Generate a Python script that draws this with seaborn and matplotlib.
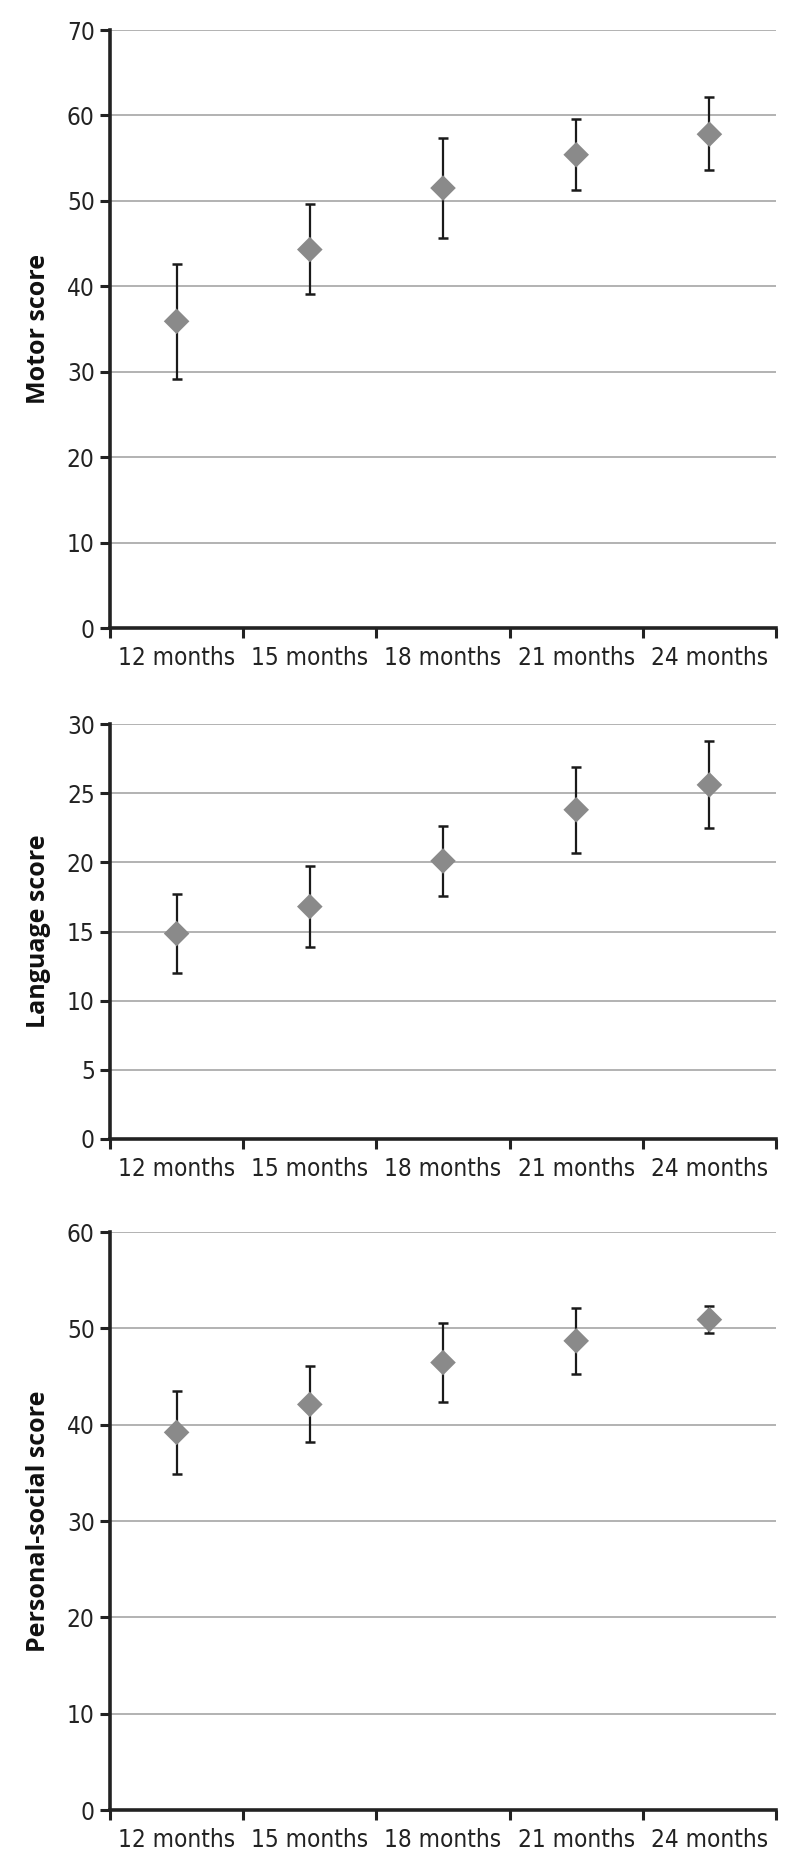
import matplotlib
matplotlib.use("Agg")
import matplotlib.pyplot as plt
import seaborn as sns
import numpy as np
import pandas as pd
from matplotlib.ticker import FixedLocator, NullFormatter
from matplotlib import font_manager

categories = ["12 months", "15 months", "18 months", "21 months", "24 months"]

motor_mean = [35.9, 44.3, 51.5, 55.4, 57.8]
motor_low = [29.2, 39.1, 45.7, 51.25, 53.6]
motor_high = [42.65, 49.6, 57.35, 59.6, 62.1]

language_mean = [14.85, 16.8, 20.1, 23.8, 25.6]
language_low = [12.0, 13.9, 17.6, 20.7, 22.5]
language_high = [17.7, 19.7, 22.6, 26.9, 28.75]

social_mean = [39.2, 42.1, 46.45, 48.7, 50.9]
social_low = [34.85, 38.15, 42.35, 45.3, 49.55]
social_high = [43.45, 46.1, 50.6, 52.15, 52.35]

panels = [
    ("Motor score", motor_mean, motor_low, motor_high, 70, 10),
    ("Language score", language_mean, language_low, language_high, 30, 5),
    ("Personal-social score", social_mean, social_low, social_high, 60, 10),
]

sns.set_theme(style="white")
plt.rcParams['font.family'] = ['Open Sans', 'DejaVu Sans']

# condensed upright tick font if available
cond = [f for f in font_manager.fontManager.ttflist
        if f.name in ("Liberation Sans Narrow", "DejaVu Sans")
        and (f.stretch in ("condensed", "semi-condensed") or f.name == "Liberation Sans Narrow")
        and f.style == "normal"
        and f.weight in (400, "normal", "regular", "book")]
tick_fp = (font_manager.FontProperties(fname=cond[0].fname) if cond
           else font_manager.FontProperties(family="Open Sans"))

W, H = 800, 1869
fig = plt.figure(figsize=(W / 100, H / 100), dpi=100)

boxes = [(30, 628), (724, 1139), (1232, 1810)]
left_px, right_px = 110, 776

for (ylabel, mean, low, high, ymax, step), (top, bot) in zip(panels, boxes):
    ax = fig.add_axes([left_px / W, 1 - bot / H, (right_px - left_px) / W, (bot - top) / H])
    df = pd.DataFrame({"x": np.arange(len(categories)), "mean": mean,
                       "low": low, "high": high})
    yerr = np.vstack([df["mean"] - df["low"], df["high"] - df["mean"]])
    ax.errorbar(df["x"], df["mean"], yerr=yerr, fmt="none", ecolor="#1a1a1a",
                elinewidth=1.6, capsize=3.8, capthick=1.8, zorder=3)
    sns.scatterplot(data=df, x="x", y="mean", marker="D", s=170, color="#8a8a8a",
                    edgecolor="none", ax=ax, zorder=4, legend=False)
    ax.set_xlim(-0.5, len(categories) - 0.5)
    ax.set_ylim(0, ymax)
    ax.set_yticks(np.arange(0, ymax + 0.1, step))
    ax.yaxis.grid(True, color="#acacac", linewidth=1.3, zorder=0)
    ax.set_axisbelow(True)
    ax.xaxis.set_major_locator(FixedLocator(np.arange(-0.5, len(categories), 1.0)))
    ax.xaxis.set_major_formatter(NullFormatter())
    ax.xaxis.set_minor_locator(FixedLocator(np.arange(len(categories))))
    ax.set_xticklabels(categories, minor=True)
    ax.tick_params(axis="x", which="minor", length=0, pad=13, labelcolor="#222222")
    ax.tick_params(axis="x", which="major", length=7, width=2.2, color="#222222", direction="out", bottom=True)
    ax.tick_params(axis="y", length=7, width=2.2, color="#222222", direction="out", left=True,
                   pad=4, labelcolor="#222222")
    for lab in ax.get_xticklabels(minor=True) + ax.get_yticklabels():
        lab.set_fontproperties(tick_fp)
        lab.set_fontsize(17.5)
    for s in ["top", "right"]:
        ax.spines[s].set_visible(False)
    for s in ["left", "bottom"]:
        ax.spines[s].set_color("#222222")
        ax.spines[s].set_linewidth(2.6)
    ax.set_xlabel("")
    ax.set_ylabel(ylabel, fontsize=18, fontweight="bold", color="#111111")
    ax.yaxis.set_label_coords(-(110 - 51) / (right_px - left_px), 0.5)

fig.savefig("out.png", dpi=100, facecolor="white")
